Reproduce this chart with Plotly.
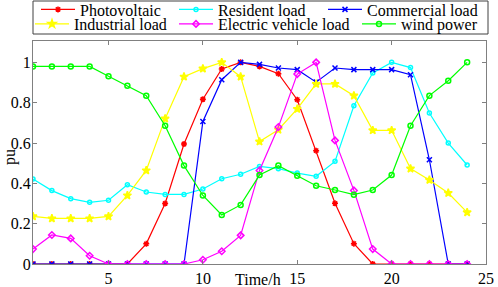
import plotly.graph_objects as go

hours = list(range(1, 25))

photovoltaic = [0, 0, 0, 0, 0, 0, 0.10, 0.30, 0.595, 0.817, 0.967, 1.0,
                0.98, 0.944, 0.815, 0.562, 0.301, 0.101, 0, 0, 0, 0, 0, 0]
resident = [0.421, 0.364, 0.324, 0.306, 0.316, 0.393, 0.357, 0.345, 0.345, 0.372, 0.423, 0.445,
            0.484, 0.473, 0.451, 0.435, 0.509, 0.785, 0.947, 1.0, 0.974, 0.749, 0.600, 0.491]
commercial = [0, 0, 0, 0, 0, 0, 0, 0, 0, 0.707, 0.914, 1.0,
              0.99, 0.972, 0.964, 0.902, 0.972, 0.964, 0.964, 0.964, 0.939, 0.517, 0, 0]
industrial = [0.236, 0.226, 0.226, 0.226, 0.236, 0.340, 0.464, 0.721, 0.929, 0.969, 1.0, 0.929,
              0.607, 0.666, 0.769, 0.893, 0.893, 0.835, 0.663, 0.663, 0.473, 0.417, 0.352, 0.256]
ev = [0.074, 0.144, 0.127, 0.041, 0, 0, 0, 0, 0, 0.021, 0.063, 0.142,
      0.464, 0.679, 0.942, 1.0, 0.613, 0.365, 0.074, 0, 0, 0, 0, 0]
wind = [0.98, 0.98, 0.98, 0.98, 0.931, 0.884, 0.835, 0.686, 0.488, 0.340, 0.243, 0.293,
        0.441, 0.488, 0.438, 0.388, 0.367, 0.344, 0.367, 0.441, 0.686, 0.835, 0.909, 1.0]

series = [
    ("Photovoltaic", photovoltaic, "#ff0000", "asterisk-open", 5, "legend"),
    ("Resident load", resident, "#00ffff", "circle-open", 4, "legend2"),
    ("Commercial load", commercial, "#0000ff", "x-thin-open", 5, "legend3"),
    ("Industrial load", industrial, "#ffff00", "star", 6, "legend4"),
    ("Electric vehicle load", ev, "#ff00ff", "diamond-open", 5, "legend5"),
    ("wind power", wind, "#00ff00", "circle-open", 5, "legend6"),
]

FONT = "Liberation Serif, Times New Roman, Times, serif"
fig = go.Figure()
for name, vals, col, sym, sz, lg in series:
    fig.add_trace(go.Scatter(
        x=hours, y=vals, name=name, mode="lines+markers", legend=lg,
        line=dict(color=col, width=1.2),
        marker=dict(symbol=sym, size=sz, color=col, line=dict(color=col, width=1.5)),
    ))

W, H = 498, 287
L, R, T, B = 33, 12, 41, 23
pw, ph = W - L - R, H - T - B


def px(x):
    return (x - L) / pw


def py(y):
    return (H - B - y) / ph


leg_pos = {
    "legend": (36, 9.5), "legend2": (174, 9.5), "legend3": (323, 9.5),
    "legend4": (30, 24), "legend5": (174, 24), "legend6": (357, 24),
}
legends = {}
for k, (lx, ly) in leg_pos.items():
    legends[k] = dict(x=px(lx), y=py(ly), xanchor="left", yanchor="middle",
                      bgcolor="rgba(0,0,0,0)", borderwidth=0, itemwidth=34,
                      font=dict(family=FONT, size=16, color="black"))

axis_common = dict(showgrid=False, zeroline=False, showline=True, linecolor="#808080",
                   linewidth=1, mirror="ticks", ticks="inside", ticklen=4,
                   tickcolor="#808080", tickfont=dict(family=FONT, size=16, color="black"))

fig.update_layout(
    width=W, height=H, margin=dict(l=L, r=R, t=T, b=B, autoexpand=False),
    plot_bgcolor="white", paper_bgcolor="white",
    showlegend=True,
    xaxis=dict(range=[1, 25], tickvals=[5, 10, 15, 20, 25], automargin=False, **axis_common),
    yaxis=dict(range=[0, 1.106], tickvals=[0, 0.2, 0.4, 0.6, 0.8, 1],
               ticklabelstandoff=-2, automargin=False, **axis_common),
    shapes=[dict(type="rect", xref="paper", yref="paper", x0=0, x1=px(488),
                 y0=py(34), y1=py(1), line=dict(color="#404040", width=1))],
    annotations=[
        dict(text="Time/h", xref="paper", yref="paper", x=px(258), y=py(279),
             showarrow=False, xanchor="center", yanchor="middle",
             font=dict(family=FONT, size=16, color="black")),
        dict(text="pu", xref="paper", yref="paper", x=px(10), y=py(157),
             showarrow=False, textangle=-90, xanchor="center", yanchor="middle",
             font=dict(family=FONT, size=16, color="black")),
    ],
    **legends,
)

fig.write_html("out.html", config={"displayModeBar": False},
               post_script="document.body.style.margin='0';document.body.style.overflow='hidden';")
